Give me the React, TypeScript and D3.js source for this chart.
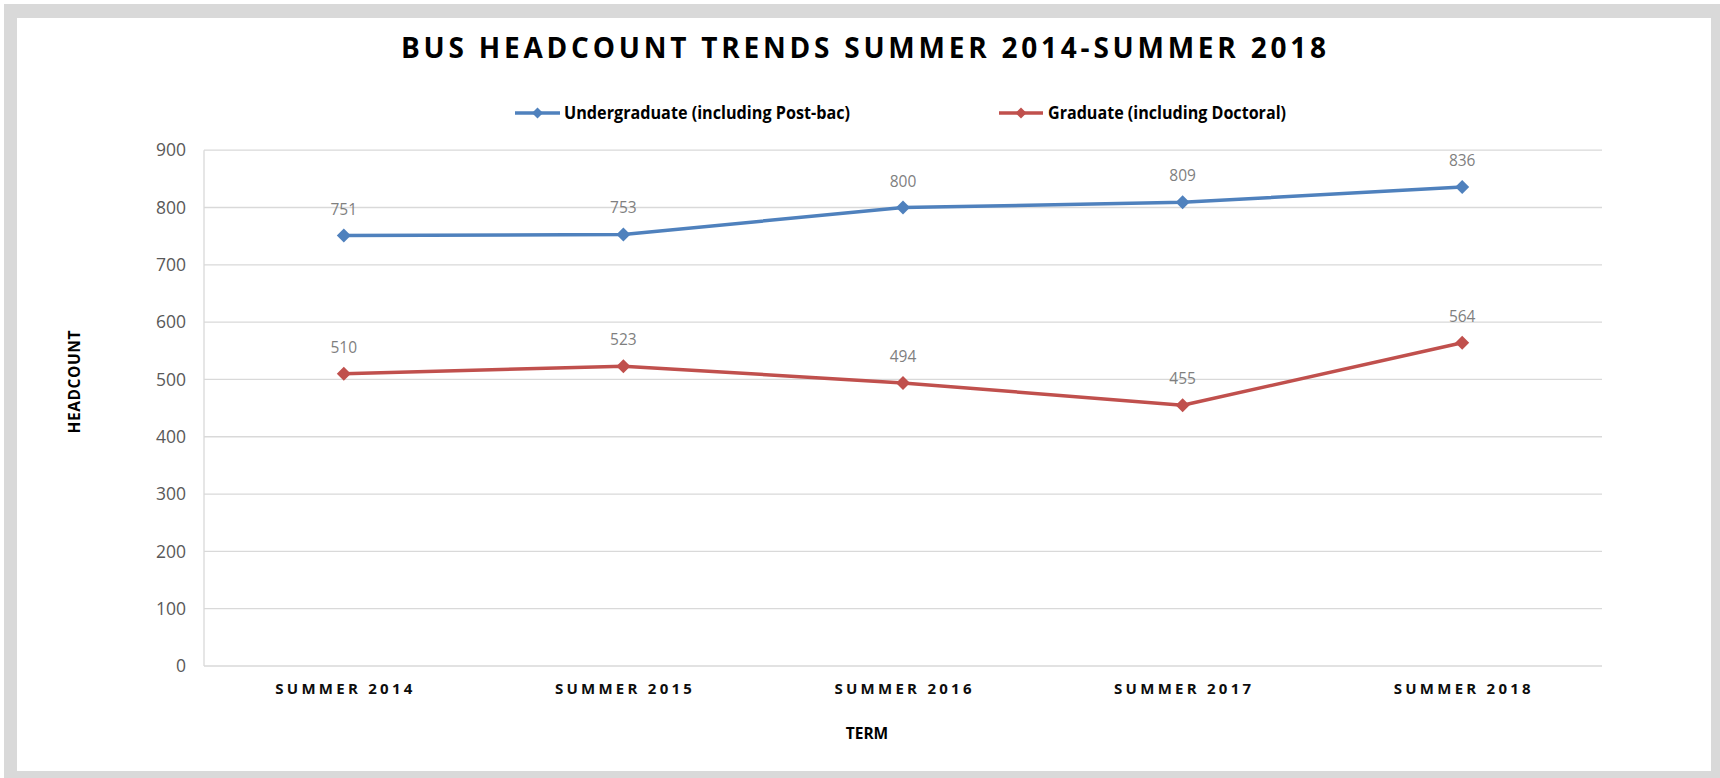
import React from "react";
import * as d3 from "d3";

const categories = ["SUMMER 2014", "SUMMER 2015", "SUMMER 2016", "SUMMER 2017", "SUMMER 2018"];
const undergrad = [751, 753, 800, 809, 836];
const graduate = [510, 523, 494, 455, 564];
const yTicks = [0, 100, 200, 300, 400, 500, 600, 700, 800, 900];
const seriesNames = ["Undergraduate (including Post-bac)", "Graduate (including Doctoral)"];
const seriesColors = ["#4f81bd", "#c0504d"];

const W = 1720;
const H = 778;
const plot = { left: 204, right: 1602, top: 150.2, bottom: 666 };

export default function App() {
  const x = d3.scaleBand<string>().domain(categories).range([plot.left, plot.right]);
  const y = d3.scaleLinear().domain([0, 900]).range([plot.bottom, plot.top]);
  const cx = (c: string) => (x(c) as number) + x.bandwidth() / 2;
  const line = d3
    .line<number>()
    .x((_, i) => cx(categories[i]))
    .y((d) => y(d));
  const diamond = (px: number, py: number, r: number) =>
    `M${px},${py - r}L${px + r},${py}L${px},${py + r}L${px - r},${py}Z`;
  const allSeries = [undergrad, graduate];
  const legend = [
    { x0: 515, x1: 560, tx: 564, tw: 286 },
    { x0: 999, x1: 1043, tx: 1048, tw: 238 },
  ];

  return (
    <svg
      width={W}
      height={H}
      style={{ position: "absolute", left: 0, top: 0, display: "block" }}
      fontFamily="'Open Sans', sans-serif"
    >
      <rect x={0} y={0} width={W} height={H} fill="#ffffff" />
      <rect x={4} y={4} width={W - 4} height={H - 4} fill="#d9d9d9" />
      <rect x={17} y={18} width={1711 - 17} height={771 - 18} fill="#ffffff" />

      <text
        x={401}
        y={58}
        fontSize={28}
        fontWeight={700}
        fill="#000"
        textLength={925}
        lengthAdjust="spacing"
      >
        BUS HEADCOUNT TRENDS SUMMER 2014-SUMMER 2018
      </text>

      {legend.map((l, i) => (
        <g key={i}>
          <line x1={l.x0} x2={l.x1} y1={113} y2={113} stroke={seriesColors[i]} strokeWidth={3.5} />
          <path d={diamond((l.x0 + l.x1) / 2, 113, 5.5)} fill={seriesColors[i]} />
          <text
            x={l.tx}
            y={118.5}
            fontSize={18}
            fontWeight={700}
            fontFamily="'Liberation Sans Narrow', 'Open Sans', sans-serif"
            fill="#000"
            textLength={l.tw}
            lengthAdjust="spacingAndGlyphs"
          >
            {seriesNames[i]}
          </text>
        </g>
      ))}

      {yTicks.map((t) => (
        <g key={t}>
          <line x1={plot.left} x2={plot.right} y1={y(t)} y2={y(t)} stroke="#d9d9d9" strokeWidth={1.3} />
          <text x={186} y={y(t)} dy="0.35em" textAnchor="end" fontSize={17.5} fill="#595959">
            {t}
          </text>
        </g>
      ))}
      <line x1={plot.left} x2={plot.left} y1={plot.top} y2={plot.bottom} stroke="#d9d9d9" strokeWidth={1.3} />

      {categories.map((c) => (
        <text
          key={c}
          x={cx(c) - 68.5}
          y={694}
          fontSize={15}
          fontWeight={700}
          fill="#0d0d0d"
          textLength={137}
          lengthAdjust="spacing"
        >
          {c}
        </text>
      ))}

      <text x={867} y={739} textAnchor="middle" fontSize={15.5} fontWeight={700} fill="#000">
        TERM
      </text>
      <text
        transform={`translate(80,382) rotate(-90)`}
        x={-51.5}
        y={0}
        fontSize={15.5}
        fontWeight={700}
        fill="#000"
        textLength={103}
        lengthAdjust="spacing"
      >
        HEADCOUNT
      </text>

      {allSeries.map((s, i) => (
        <g key={i}>
          <path d={line(s) as string} fill="none" stroke={seriesColors[i]} strokeWidth={3.5} strokeLinejoin="round" />
          {s.map((v, j) => (
            <g key={j}>
              <path d={diamond(cx(categories[j]), y(v), 7)} fill={seriesColors[i]} />
              <text
                x={cx(categories[j])}
                y={y(v) - 21}
                textAnchor="middle"
                fontSize={15.5}
                fill="#7f7f7f"
              >
                {v}
              </text>
            </g>
          ))}
        </g>
      ))}
    </svg>
  );
}
